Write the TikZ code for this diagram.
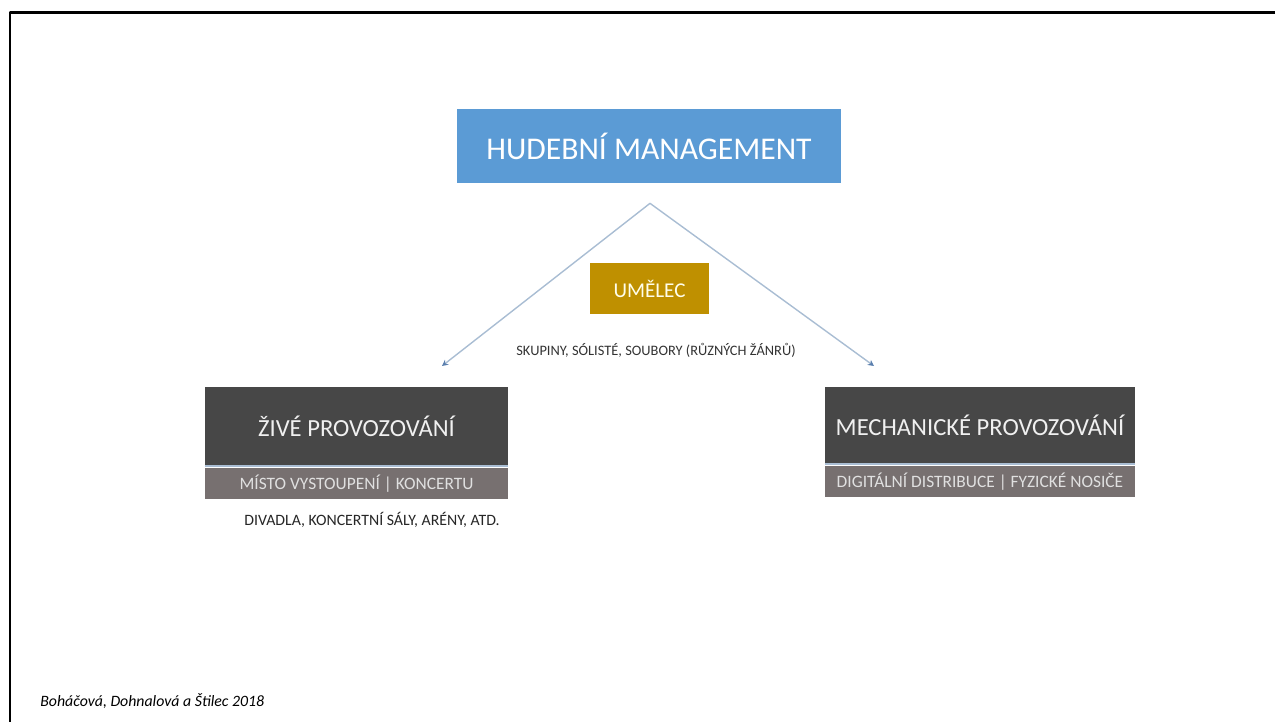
\documentclass[tikz,border=0pt]{standalone}
\usepackage{fontspec}
\setmainfont{Carlito}
\usetikzlibrary{calc,positioning,arrows.meta}
\definecolor{DiagramBlue}{HTML}{5B9BD5}
\definecolor{DiagramGold}{HTML}{BF9000}
\definecolor{DiagramDark}{HTML}{474747}
\definecolor{DiagramMauve}{HTML}{777070}
\definecolor{DiagramLine}{HTML}{A9BDD3}
\definecolor{DiagramTip}{HTML}{5A7FAE}

\begin{document}
\begin{tikzpicture}[x=0.02cm,y=-0.02cm,line cap=round,line join=round,
  panel/.style={fill=#1,inner sep=0pt,align=center},
  band/.style={fill=DiagramMauve,text=black!12,inner sep=0pt,minimum height=0.62cm},
  link/.style={DiagramLine,line width=0.8pt,-{Stealth[length=3.5pt,width=3.5pt,color=DiagramTip]}}]
  \useasboundingbox (0,0) rectangle (1275,722);
  % frame
  \draw[line width=1.7pt,line cap=butt] (1275,13) -- (10,13) -- (10,722);
  % boxes
  \node[panel=DiagramBlue,text=white,minimum width=7.68cm,minimum height=1.48cm,
    font=\fontsize{18}{21}\selectfont] (Hm) at (649,146) {HUDEBNÍ MANAGEMENT};
  \node[panel=DiagramGold,text=yellow!8,minimum width=2.38cm,minimum height=1.02cm,
    font=\fontsize{12}{14}\selectfont] (Art) at (649.5,288.5) {UMĚLEC};
  \node[panel=DiagramDark,text=black!6,minimum width=6.06cm,minimum height=1.56cm,
    font=\fontsize{14}{17}\selectfont] (Live) at (356.5,426) {ŽIVÉ PROVOZOVÁNÍ};
  \node[panel=DiagramDark,text=black!6,minimum width=6.2cm,minimum height=1.52cm,
    font=\fontsize{14}{17}\selectfont] (Mech) at (980,425) {MECHANICKÉ PROVOZOVÁNÍ};
  \node[band,minimum width=6.06cm,below=0.04cm of Live,font=\fontsize{9.9}{11}\selectfont]
    (LiveBand) {MÍSTO VYSTOUPENÍ | KONCERTU};
  \node[band,minimum width=6.2cm,below=0.04cm of Mech,font=\fontsize{9.9}{11}\selectfont]
    (MechBand) {DIGITÁLNÍ DISTRIBUCE | FYZICKÉ NOSIČE};
  \draw[DiagramLine,line width=1.1pt,line cap=butt] ($(Live.south west)+(0,1)$) -- ($(Live.south east)+(0,1)$);
  \draw[DiagramLine,line width=1.1pt,line cap=butt] ($(Mech.south west)+(0,1)$) -- ($(Mech.south east)+(0,1)$);
  % captions
  \node[font=\fontsize{8.2}{10}\selectfont,text=black!80] (ArtNote) at (656,350) {SKUPINY, SÓLISTÉ, SOUBORY (RŮZNÝCH ŽÁNRŮ)};
  \node[font=\fontsize{9}{11}\selectfont,text=black!85] (LiveNote) at (372,520) {DIVADLA, KONCERTNÍ SÁLY, ARÉNY, ATD.};
  \node[font=\fontsize{9}{11}\selectfont\itshape,anchor=west,inner sep=0pt] (Cite) at (40,701) {Boháčová, Dohnalová a Štilec 2018};
  % connectors
  \coordinate (Apex) at ($(Hm.south)+(1,20)$);
  \coordinate (LiveTip) at (442,366);
  \coordinate (MechTip) at (874,366);
  \draw[link] (Apex) -- (LiveTip);
  \draw[link] (Apex) -- (MechTip);
\end{tikzpicture}
\end{document}
